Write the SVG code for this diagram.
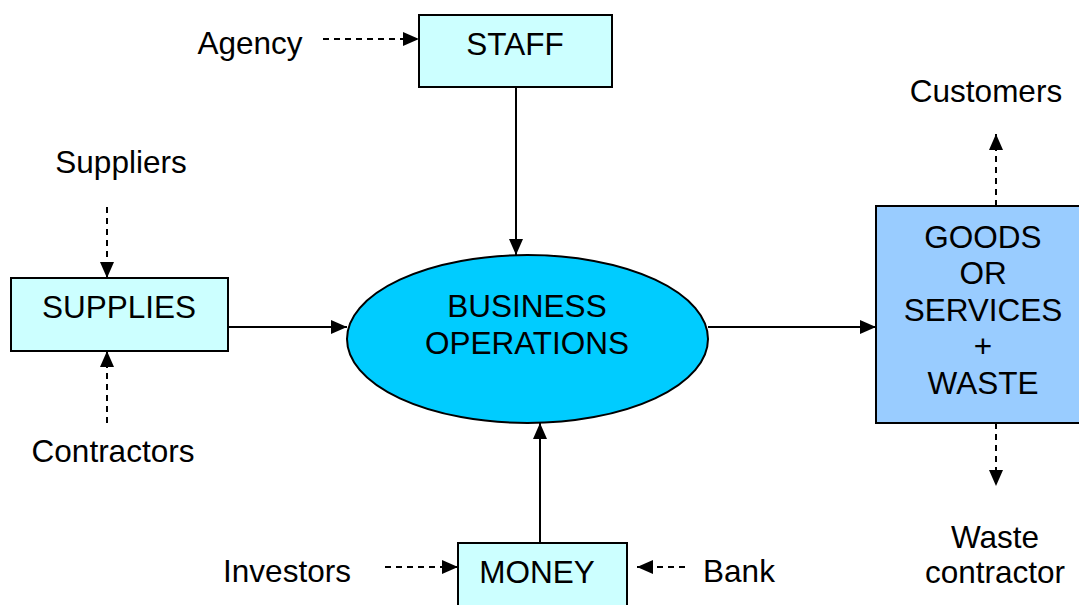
<svg xmlns="http://www.w3.org/2000/svg" width="1079" height="605" viewBox="0 0 1079 605">
<style>
text{font-family:"Liberation Sans",Arial,sans-serif;font-size:31.5px;fill:#000;text-anchor:middle}
.box{stroke:#000;stroke-width:2}
.solid{stroke:#000;stroke-width:2;fill:none;marker-end:url(#ah)}
.dash{stroke:#000;stroke-width:2;fill:none;stroke-dasharray:6 5;marker-end:url(#ah)}
</style>
<defs>
<marker id="ah" viewBox="0 0 16 14" refX="16" refY="7" markerWidth="16" markerHeight="14" markerUnits="userSpaceOnUse" orient="auto">
<path d="M0,0 L16,7 L0,14 Z" fill="#000"/>
</marker>
</defs>
<rect width="1079" height="605" fill="#fff"/>
<g id="connectors">
<line class="dash" x1="323" y1="39" x2="419" y2="39"/>
<line class="solid" x1="516" y1="87" x2="516" y2="255"/>
<line class="dash" x1="107" y1="207" x2="107" y2="278"/>
<line class="dash" x1="107" y1="423" x2="107" y2="351"/>
<line class="solid" x1="228" y1="327" x2="347" y2="327"/>
<line class="solid" x1="540" y1="542" x2="540" y2="423"/>
<line class="dash" x1="385" y1="567" x2="458" y2="567"/>
<line class="dash" x1="685" y1="567" x2="637" y2="567"/>
<line class="solid" x1="708" y1="327" x2="876" y2="327"/>
<line class="dash" x1="996" y1="206" x2="996" y2="134"/>
<line class="dash" x1="996" y1="423" x2="996" y2="486"/>
</g>
<g id="staff">
<rect class="box" x="419" y="15" width="193" height="72" fill="#CCFFFF"/>
<text x="515" y="55">STAFF</text>
</g>
<g id="agency"><text x="250" y="54">Agency</text></g>
<g id="supplies">
<rect class="box" x="11" y="278" width="217" height="73" fill="#CCFFFF"/>
<text x="119" y="318">SUPPLIES</text>
</g>
<g id="suppliers"><text x="121" y="173">Suppliers</text></g>
<g id="contractors"><text x="113" y="462">Contractors</text></g>
<g id="business-operations">
<ellipse class="box" cx="527.5" cy="339" rx="180.5" ry="84" fill="#00CCFF"/>
<text x="527" y="317">BUSINESS</text>
<text x="527" y="354">OPERATIONS</text>
</g>
<g id="money">
<rect class="box" x="458" y="543" width="169" height="70" fill="#CCFFFF"/>
<text x="537" y="583">MONEY</text>
</g>
<g id="investors"><text x="287" y="582">Investors</text></g>
<g id="bank"><text x="739" y="582">Bank</text></g>
<g id="goods">
<rect class="box" x="876" y="206" width="210" height="217" fill="#99CCFF"/>
<text x="983" y="248">GOODS</text>
<text x="983" y="284">OR</text>
<text x="983" y="321">SERVICES</text>
<text x="983" y="357">+</text>
<text x="983" y="394">WASTE</text>
</g>
<g id="customers"><text x="986" y="102">Customers</text></g>
<g id="waste-contractor">
<text x="995" y="548">Waste</text>
<text x="995" y="583">contractor</text>
</g>
</svg>
